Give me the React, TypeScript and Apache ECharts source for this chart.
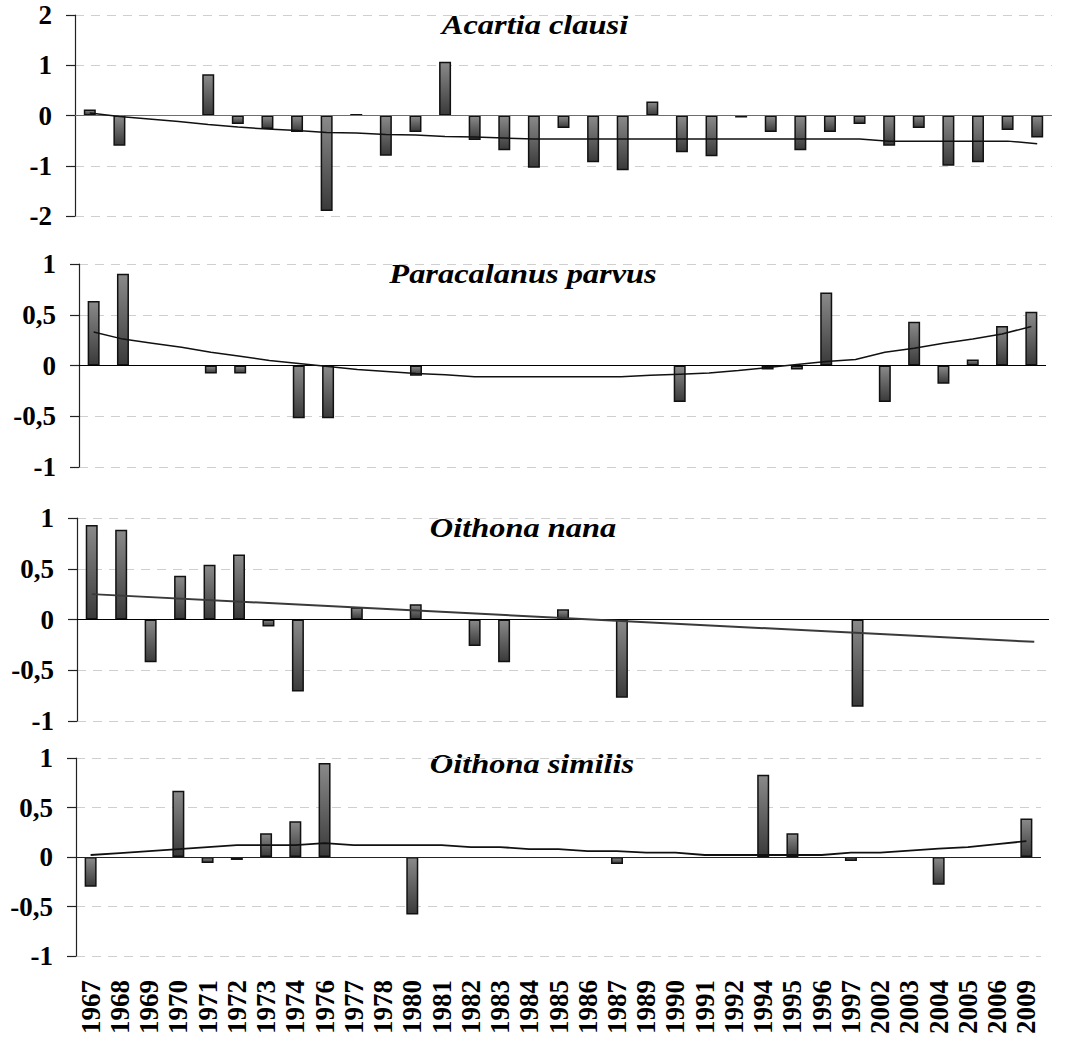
import React, { useEffect, useRef } from "react";
import * as echarts from "echarts";

const years = ["1967","1968","1969","1970","1971","1972","1973","1974","1976","1977","1978","1980","1981","1982","1983","1984","1985","1986","1987","1989","1990","1991","1992","1994","1995","1996","1997","2002","2003","2004","2005","2006","2009"];

const acartiaBars = [0.12,-0.6,null,null,0.82,-0.17,-0.27,-0.33,-1.9,0.03,-0.8,-0.33,1.07,-0.49,-0.69,-1.04,-0.25,-0.93,-1.09,0.28,-0.73,-0.81,-0.04,-0.33,-0.69,-0.33,-0.17,-0.6,-0.25,-1.0,-0.93,-0.29,-0.44];
const acartiaTrend = [0.05,-0.02,-0.07,-0.12,-0.18,-0.23,-0.27,-0.3,-0.34,-0.35,-0.38,-0.39,-0.42,-0.43,-0.45,-0.47,-0.47,-0.47,-0.47,-0.47,-0.47,-0.47,-0.47,-0.47,-0.47,-0.47,-0.47,-0.51,-0.51,-0.51,-0.51,-0.51,-0.56];

const paracalanusBars = [0.635,0.905,null,null,-0.08,-0.08,null,-0.52,-0.52,null,null,-0.1,null,null,null,null,null,null,null,null,-0.36,null,null,-0.04,-0.04,0.72,null,-0.36,0.43,-0.18,0.06,0.39,0.53];
const paracalanusTrend = [0.33,0.26,0.22,0.18,0.13,0.09,0.05,0.02,-0.01,-0.04,-0.06,-0.08,-0.09,-0.11,-0.11,-0.11,-0.11,-0.11,-0.11,-0.095,-0.085,-0.075,-0.05,-0.02,0.01,0.04,0.06,0.13,0.17,0.22,0.26,0.31,0.385];

const nanaBars = [0.93,0.885,-0.42,0.43,0.54,0.64,-0.07,-0.71,null,0.12,null,0.15,null,-0.26,-0.42,null,0.1,null,-0.77,null,null,null,null,null,null,null,-0.86,null,null,null,null,null,null];
const nanaTrend = [0.25,null,null,null,null,null,null,null,null,null,null,null,null,null,null,null,null,null,null,null,null,null,null,null,null,null,null,null,null,null,null,null,-0.22];

const similisBars = [-0.3,null,null,0.67,-0.06,-0.03,0.24,0.36,0.95,null,null,-0.58,null,null,null,null,null,null,-0.07,null,null,null,null,0.83,0.24,null,-0.04,null,null,-0.28,null,null,0.39];
const similisTrend = [0.02,0.04,0.06,0.08,0.1,0.12,0.12,0.12,0.14,0.12,0.12,0.12,0.12,0.1,0.1,0.08,0.08,0.06,0.06,0.045,0.045,0.02,0.02,0.02,0.02,0.02,0.045,0.045,0.065,0.085,0.1,0.13,0.16];

const titles = ["Acartia clausi", "Paracalanus parvus", "Oithona nana", "Oithona similis"];

const FONT = "Liberation Serif";

export default function App() {
  const ref = useRef<HTMLDivElement>(null);
  useEffect(() => {
    if (!ref.current) return;
    const chart = echarts.init(ref.current, undefined, { renderer: "svg" });

    const grids = [
      { left: 75, right: 16, top: 15, height: 201 },
      { left: 79, right: 22, top: 264, height: 203 },
      { left: 77, right: 19, top: 518, height: 203 },
      { left: 76, right: 27, top: 758, height: 198 },
    ];
    const ranges = [
      { min: -2, max: 2, interval: 1 },
      { min: -1, max: 1, interval: 0.5 },
      { min: -1, max: 1, interval: 0.5 },
      { min: -1, max: 1, interval: 0.5 },
    ];
    const barsData = [acartiaBars, paracalanusBars, nanaBars, similisBars];
    const trendData = [acartiaTrend, paracalanusTrend, nanaTrend, similisTrend];
    const zeroColors = ["#6e6e6e", "#000", "#000", "#222"];
    const trendStyles = [
      { color: "#111", width: 1.5 },
      { color: "#111", width: 1.5 },
      { color: "#3a3a3a", width: 2 },
      { color: "#111", width: 1.8 },
    ];
    const titlePos = [
      { x: 535, y: 24 },
      { x: 523, y: 273 },
      { x: 523, y: 527 },
      { x: 532, y: 763 },
    ];

    const barColor = new echarts.graphic.LinearGradient(0, 0, 0, 1, [
      { offset: 0, color: "#8a8a8a" },
      { offset: 1, color: "#3a3a3a" },
    ]);

    const series: any[] = [];
    for (let i = 0; i < 4; i++) {
      series.push({
        type: "bar",
        xAxisIndex: i,
        yAxisIndex: i,
        data: barsData[i],
        barWidth: 12,
        itemStyle: { color: barColor, borderColor: "#111", borderWidth: 1.5 },
        markLine: {
          silent: true,
          symbol: "none",
          label: { show: false },
          lineStyle: { color: zeroColors[i], type: "solid", width: 1.2 },
          data: [{ yAxis: 0 }],
        },
        z: 2,
      });
      series.push({
        type: "line",
        xAxisIndex: i,
        yAxisIndex: i,
        data: trendData[i],
        connectNulls: true,
        symbol: "none",
        lineStyle: trendStyles[i],
        z: 5,
      });
    }

    chart.setOption({
      animation: false,
      backgroundColor: "#fff",
      textStyle: { fontFamily: FONT },
      grid: grids,
      xAxis: grids.map((_, i) => ({
        type: "category",
        gridIndex: i,
        data: years,
        position: "bottom",
        axisLine: { show: false, onZero: false },
        axisTick: { show: false },
        splitLine: { show: false },
        axisLabel: {
          show: i === 3,
          interval: 0,
          rotate: 90,
          margin: 24,
          fontFamily: FONT,
          fontWeight: "bold",
          fontSize: 27,
          color: "#000",
        },
      })),
      yAxis: grids.map((_, i) => ({
        type: "value",
        gridIndex: i,
        min: ranges[i].min,
        max: ranges[i].max,
        interval: ranges[i].interval,
        axisLine: { show: true, lineStyle: { color: "#222", width: 1.2 } },
        axisTick: { show: true, inside: false, length: 9, lineStyle: { color: "#222", width: 1.2 } },
        splitLine: { show: true, lineStyle: { color: "#cfcfcf", type: [9, 7], width: 1 } },
        axisLabel: {
          margin: 23,
          fontFamily: FONT,
          fontWeight: "bold",
          fontSize: 27,
          color: "#000",
          formatter: (v: number) => String(v).replace(".", ","),
        },
      })),
      graphic: titles.map((t, i) => ({
        type: "text",
        x: titlePos[i].x,
        y: titlePos[i].y,
        scaleX: 1.2,
        style: {
          text: t,
          fontFamily: FONT,
          fontStyle: "italic",
          fontWeight: "bold",
          fontSize: 27,
          fill: "#000",
          textAlign: "center",
          textVerticalAlign: "middle",
        },
      })),
      series,
    });

    return () => chart.dispose();
  }, []);

  return (
    <div
      ref={ref}
      style={{ position: "absolute", left: 0, top: 0, width: 1068, height: 1044 }}
    />
  );
}
